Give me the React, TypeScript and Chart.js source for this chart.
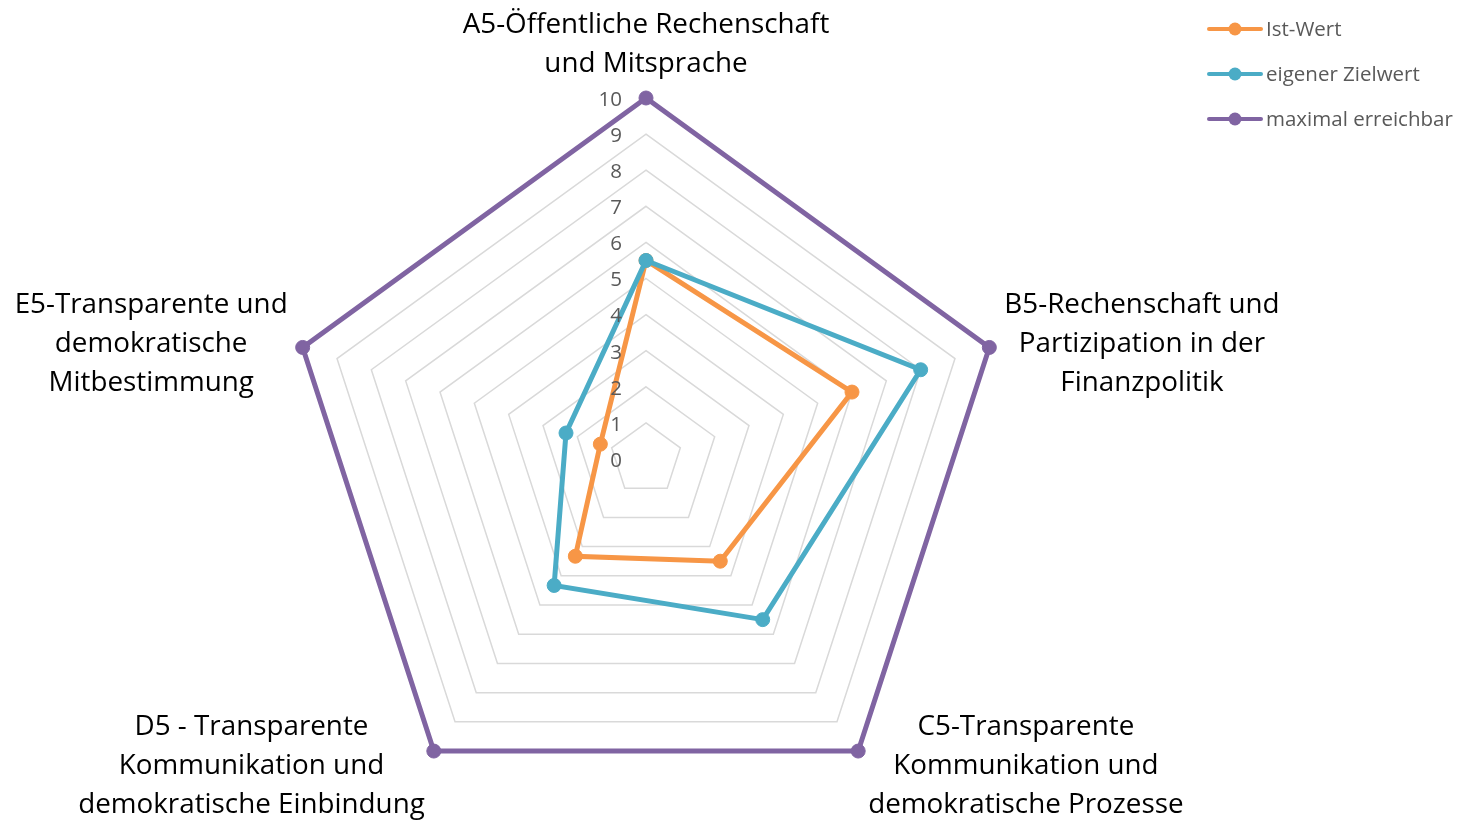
import React, { useEffect, useRef } from "react";
import { Chart, registerables } from "chart.js";

Chart.register(...registerables);

// ---- data ----
const categories: string[][] = [
  ["A5-Öffentliche Rechenschaft", "und Mitsprache"],
  ["B5-Rechenschaft und", "Partizipation in der", "Finanzpolitik"],
  ["C5-Transparente", "Kommunikation und", "demokratische Prozesse"],
  ["D5 - Transparente", "Kommunikation und", "demokratische Einbindung"],
  ["E5-Transparente und", "demokratische", "Mitbestimmung"],
];
const seriesNames = ["Ist-Wert", "eigener Zielwert", "maximal erreichbar"];
const istWert = [5.5, 6, 3.5, 3.33, 1.33];
const zielWert = [5.5, 8, 5.5, 4.33, 2.33];
const maximalWert = [10, 10, 10, 10, 10];
const tickLabels = ["0", "1", "2", "3", "4", "5", "6", "7", "8", "9", "10"];
const seriesColors = ["#F79646", "#4BACC6", "#8064A2"];

// ---- styles ----
const FONT = "'Open Sans', Lato, sans-serif";
const LABEL_SIZE = 27.8;
const LABEL_LINE_H = 39;
const TICK_SIZE = 20.5;
const LEGEND_SIZE = 20.5;

const pointLabelPlugin = {
  id: "excelPointLabels",
  afterDraw(chart: any) {
    const scale = chart.scales.r;
    const ctx = chart.ctx;
    ctx.save();
    ctx.font = `${LABEL_SIZE}px ${FONT}`;
    ctx.fillStyle = "#000000";
    ctx.textBaseline = "middle";
    ctx.textAlign = "center";
    (chart.data.labels as any[]).forEach((lab, i) => {
      const lines: string[] = Array.isArray(lab) ? lab : [lab];
      const v = scale.getPointPosition(i, scale.drawingArea);
      const w = Math.max(...lines.map((l) => ctx.measureText(l).width));
      const h = lines.length * LABEL_LINE_H;
      const dx = v.x - scale.xCenter;
      const dy = v.y - scale.yCenter;
      let cx: number;
      let cy: number;
      if (Math.abs(dx) < 1) {
        cx = v.x;
        cy = v.y - 14 - h / 2;
      } else if (dy < 0) {
        cy = v.y - 3;
        cx = dx > 0 ? v.x + 15 + w / 2 : v.x - 15 - w / 2;
      } else {
        cy = v.y + 15;
        cx = dx > 0 ? v.x + 10 + w / 2 : v.x - 9 - w / 2;
      }
      lines.forEach((line, k) => {
        ctx.fillText(line, cx, cy - h / 2 + LABEL_LINE_H * (k + 0.5));
      });
    });
    ctx.restore();
  },
};

const tickPlugin = {
  id: "excelTicks",
  afterDatasetsDraw(chart: any) {
    const scale = chart.scales.r;
    const ctx = chart.ctx;
    ctx.save();
    ctx.font = `${TICK_SIZE}px ${FONT}`;
    ctx.fillStyle = "#595959";
    ctx.textBaseline = "middle";
    ctx.textAlign = "right";
    scale.ticks.forEach((t: any, i: number) => {
      const y = scale.yCenter - scale.getDistanceFromCenterForValue(t.value) + 2;
      ctx.fillText(tickLabels[i] ?? String(t.value), scale.xCenter - 24, y);
    });
    ctx.restore();
  },
};

const legendPlugin = {
  id: "excelLegend",
  afterDraw(chart: any) {
    const ctx = chart.ctx;
    ctx.save();
    ctx.font = `${LEGEND_SIZE}px ${FONT}`;
    ctx.textBaseline = "middle";
    ctx.textAlign = "left";
    chart.data.datasets.forEach((ds: any, i: number) => {
      const y = 29 + i * 45;
      ctx.strokeStyle = ds.borderColor;
      ctx.lineWidth = 4;
      ctx.lineCap = "round";
      ctx.beginPath();
      ctx.moveTo(1209, y);
      ctx.lineTo(1261, y);
      ctx.stroke();
      ctx.fillStyle = ds.borderColor;
      ctx.beginPath();
      ctx.arc(1235, y, 6.5, 0, Math.PI * 2);
      ctx.fill();
      ctx.fillStyle = "#595959";
      ctx.fillText(ds.label, 1266, y + 1);
    });
    ctx.restore();
  },
};

export default function App() {
  const ref = useRef<HTMLCanvasElement | null>(null);
  useEffect(() => {
    if (!ref.current) return;
    const seriesData = [istWert, zielWert, maximalWert];
    const chart = new Chart(ref.current, {
      type: "radar",
      data: {
        labels: categories,
        datasets: seriesData.map((d, i) => ({
          label: seriesNames[i],
          data: d,
          borderColor: seriesColors[i],
          backgroundColor: seriesColors[i],
          pointBackgroundColor: seriesColors[i],
          pointBorderColor: seriesColors[i],
          pointBorderWidth: 1,
          pointRadius: 7,
          borderWidth: 5,
          fill: false,
          order: 2 - i,
        })),
      },
      options: {
        animation: false,
        responsive: true,
        maintainAspectRatio: false,
        layout: { padding: { left: 285, right: 453, top: 97, bottom: 0 } },
        plugins: {
          legend: { display: false },
          tooltip: { enabled: false },
        },
        scales: {
          r: {
            min: 0,
            max: 10,
            ticks: { display: false, stepSize: 1 },
            pointLabels: { display: false },
            angleLines: { display: false },
            grid: { color: "#D9D9D9", lineWidth: 1.5 },
          },
        },
      },
      plugins: [pointLabelPlugin, tickPlugin, legendPlugin],
    });
    return () => chart.destroy();
  }, []);
  return (
    <div style={{ position: "absolute", left: 0, top: 0, width: 1461, height: 821, background: "#ffffff" }}>
      <canvas ref={ref} />
    </div>
  );
}
